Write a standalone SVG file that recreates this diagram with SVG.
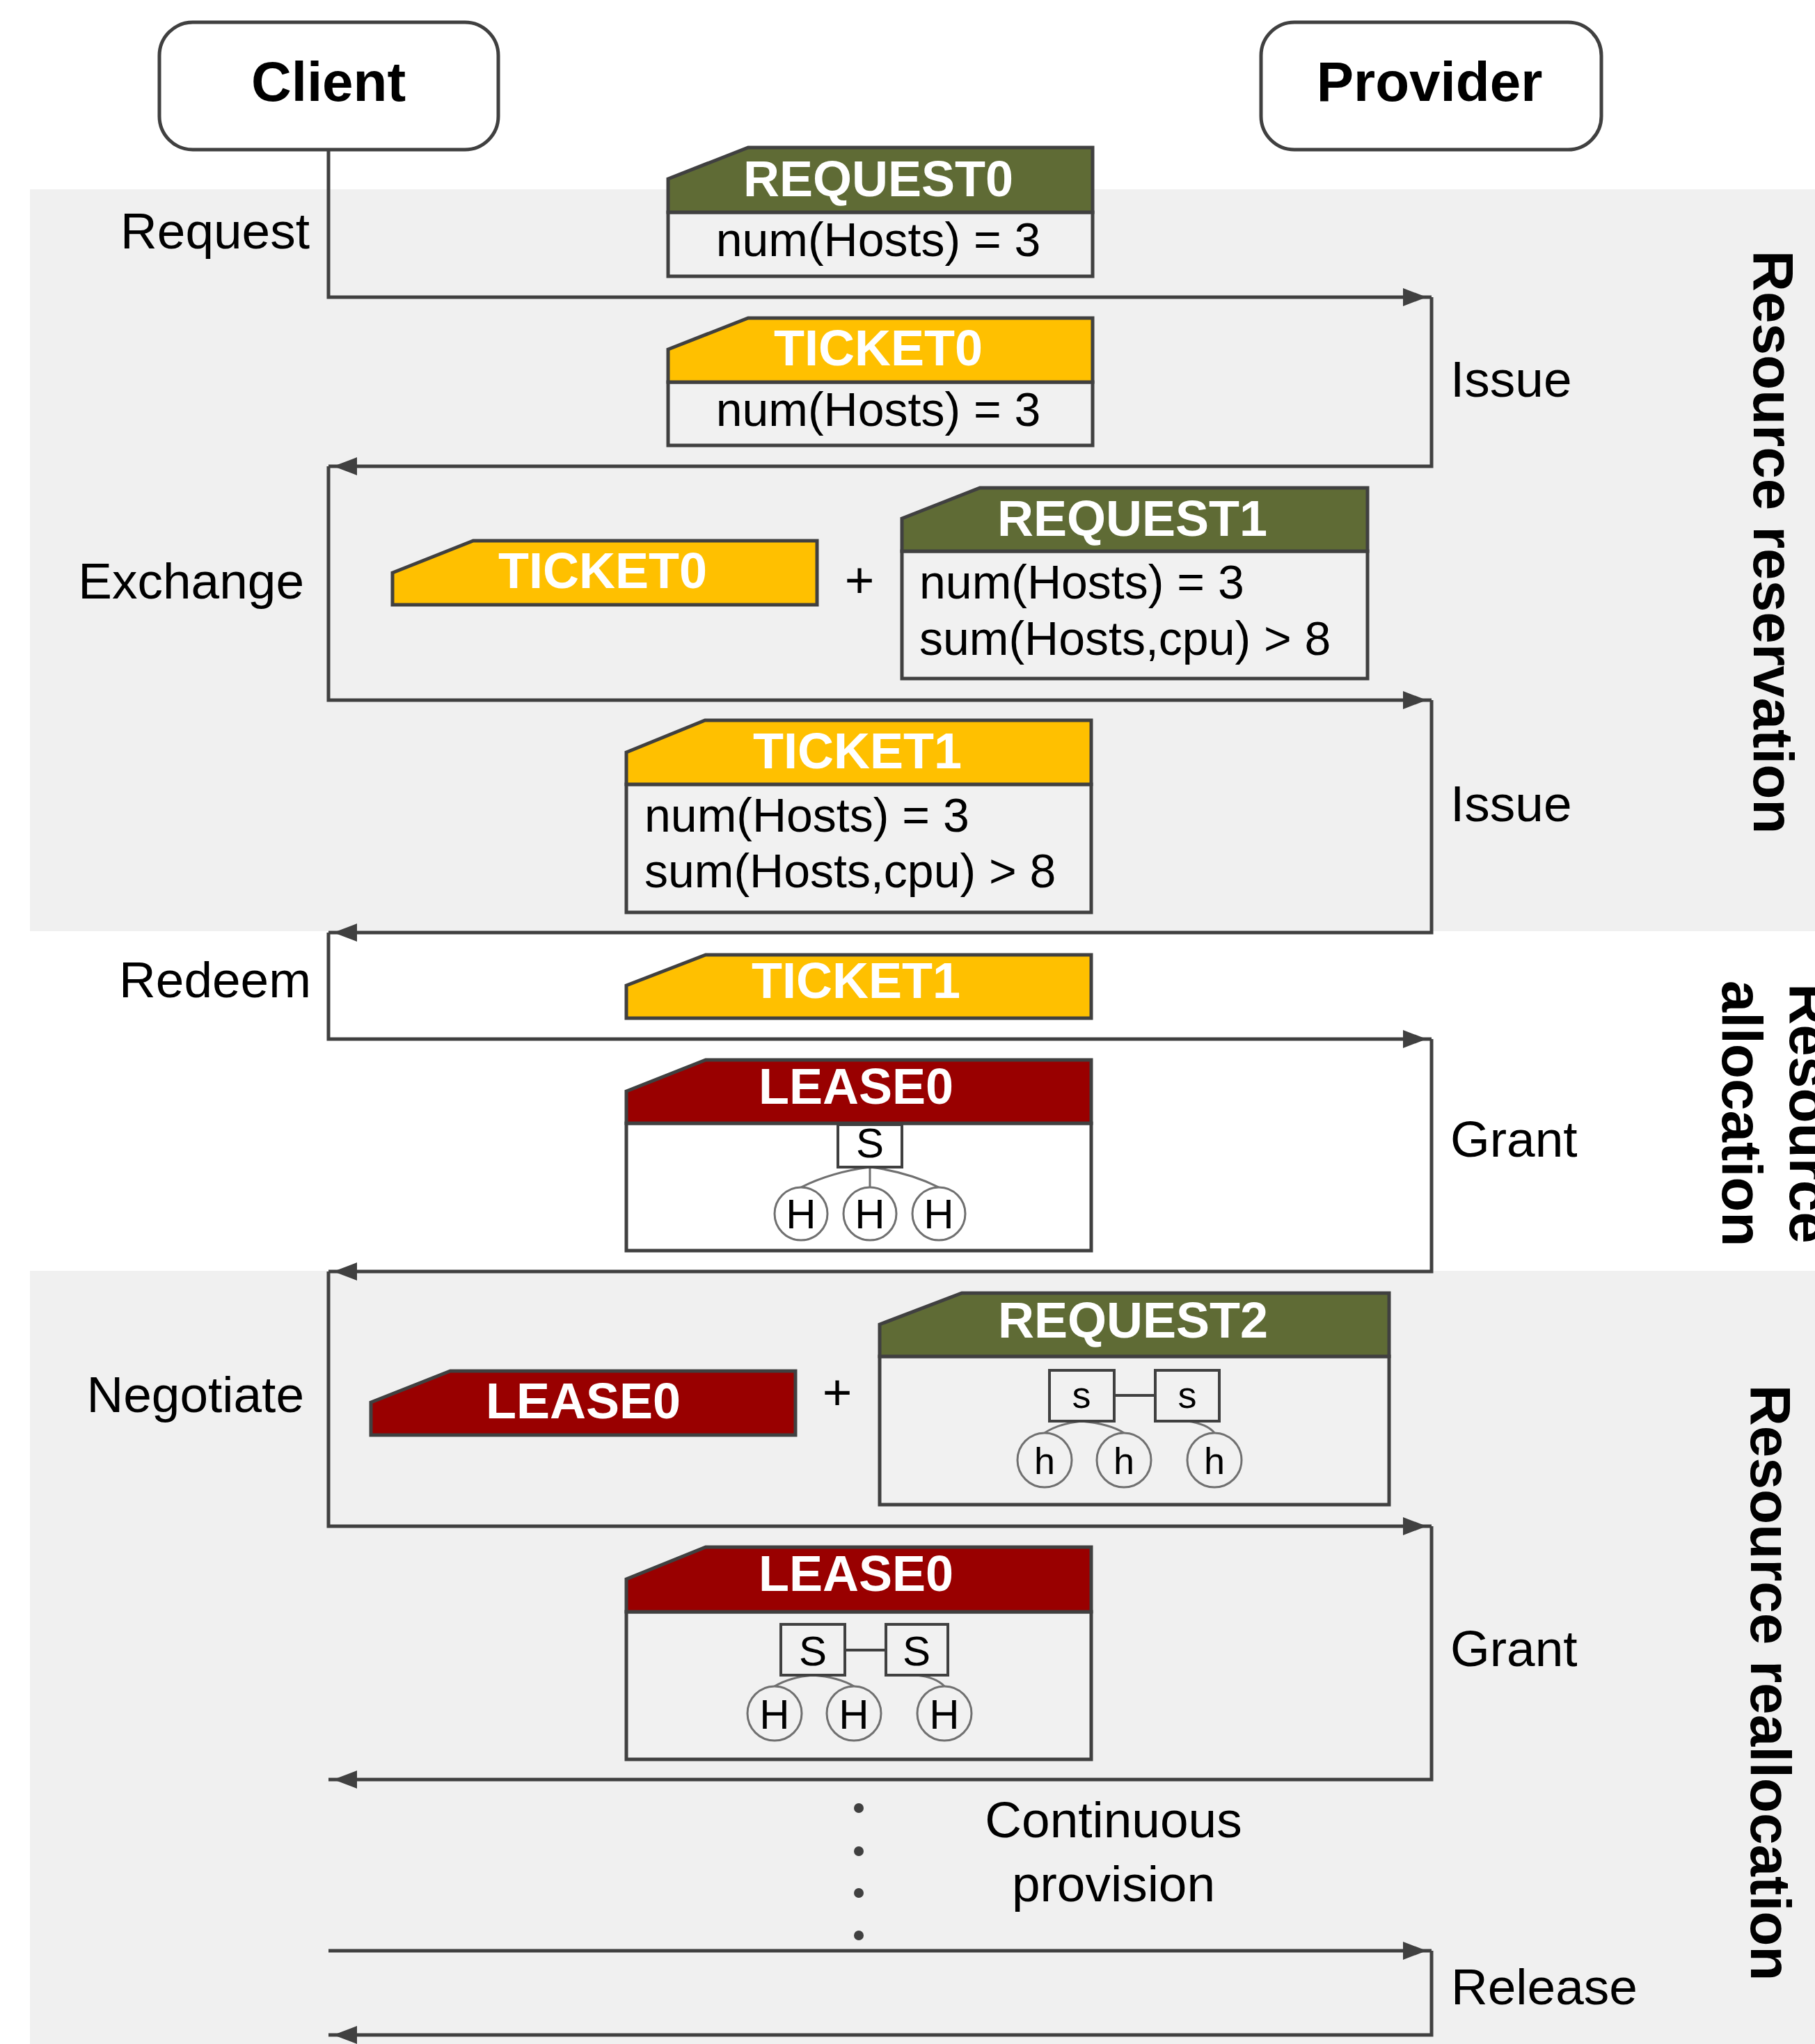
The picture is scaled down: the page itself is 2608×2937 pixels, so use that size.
<svg xmlns="http://www.w3.org/2000/svg" width="2608" height="2937" viewBox="0 0 2608 2937">
<defs>
<style>
.band{fill:#f0f0f0}
.ln{fill:none;stroke:#404040;stroke-width:5}
.bx{stroke:#404040;stroke-width:5;stroke-linejoin:miter}
.g{fill:#5f6b35}
.y{fill:#ffc000}
.r{fill:#990000}
.bg{fill:#f1f1f1}
.bw{fill:#ffffff}
.sb{stroke:#404040;stroke-width:4}
.tl{fill:none;stroke:#707070;stroke-width:3}
.hc{stroke:#707070;stroke-width:3}
text{font-family:"Liberation Sans",Arial,sans-serif;fill:#000}
.ttl{font-size:80px;font-weight:bold;text-anchor:middle}
.lbl{font-size:73px}
.end{text-anchor:end}
.hd{font-size:72px;font-weight:bold;fill:#fff;text-anchor:middle}
.bd{font-size:68px}
.mid{text-anchor:middle}
.vt{font-size:82px;font-weight:bold;text-anchor:middle}
.nd{font-size:60px;text-anchor:middle}
.ns{font-size:54px;text-anchor:middle}
</style>
<marker id="arr" viewBox="0 0 41 26" markerWidth="41" markerHeight="26" refX="41" refY="13" orient="auto" markerUnits="userSpaceOnUse">
<path d="M0,0 L34,13 L0,26 Z" fill="#404040"/>
</marker>
</defs>

<rect width="2608" height="2937" fill="#ffffff"/>
<rect class="band" x="43" y="272" width="2565" height="1066"/>
<rect class="band" x="43" y="1826" width="2565" height="1111"/>

<g id="client">
<rect x="229" y="32" width="487" height="183" rx="48" fill="#fff" stroke="#404040" stroke-width="5"/>
<text class="ttl" x="472" y="145">Client</text>
</g>
<g id="provider">
<rect x="1812" y="32" width="489" height="183" rx="48" fill="#fff" stroke="#404040" stroke-width="5"/>
<text class="ttl" x="2054" y="145">Provider</text>
</g>

<g id="connectors">
<path class="ln" d="M472,215 V427 H2057" marker-end="url(#arr)"/>
<path class="ln" d="M2057,427 V670 H472" marker-end="url(#arr)"/>
<path class="ln" d="M472,670 V1006 H2057" marker-end="url(#arr)"/>
<path class="ln" d="M2057,1006 V1340 H472" marker-end="url(#arr)"/>
<path class="ln" d="M472,1340 V1493 H2057" marker-end="url(#arr)"/>
<path class="ln" d="M2057,1493 V1827 H472" marker-end="url(#arr)"/>
<path class="ln" d="M472,1827 V2193 H2057" marker-end="url(#arr)"/>
<path class="ln" d="M2057,2193 V2557 H472" marker-end="url(#arr)"/>
<path class="ln" d="M472,2803 H2057" marker-end="url(#arr)"/>
<path class="ln" d="M2057,2803 V2924 H472" marker-end="url(#arr)"/>
<g id="dots" fill="#404040">
<circle cx="1234" cy="2598" r="7"/>
<circle cx="1234" cy="2660" r="7"/>
<circle cx="1234" cy="2720" r="7"/>
<circle cx="1234" cy="2781" r="7"/>
</g>
</g>

<g id="labels">
<text class="lbl end" x="445" y="357">Request</text>
<text class="lbl" x="2084" y="570">Issue</text>
<text class="lbl end" x="437" y="860">Exchange</text>
<text class="lbl" x="2084" y="1180">Issue</text>
<text class="lbl end" x="447" y="1433">Redeem</text>
<text class="lbl" x="2084" y="1662">Grant</text>
<text class="lbl end" x="437" y="2029">Negotiate</text>
<text class="lbl" x="2084" y="2394">Grant</text>
<text class="lbl mid" x="1600" y="2640">Continuous</text>
<text class="lbl mid" x="1600" y="2732">provision</text>
<text class="lbl" x="2085" y="2880">Release</text>
<text class="lbl mid" x="1235" y="858">+</text>
<text class="lbl mid" x="1203" y="2025">+</text>
</g>

<g id="phases">
<text class="vt" transform="translate(2520,779) rotate(90)">Resource reservation</text>
<text class="vt" transform="translate(2572,1600) rotate(90)">Resource</text>
<text class="vt" transform="translate(2475,1600) rotate(90)">allocation</text>
<text class="vt" transform="translate(2516,2418) rotate(90)">Resource reallocation</text>
</g>

<g id="request0">
<rect class="bx bg" x="960" y="305" width="610" height="92"/>
<path class="bx g" d="M960,257 L1075,212 H1570 V305 H960 Z"/>
<text class="hd" x="1262" y="282">REQUEST0</text>
<text class="bd mid" x="1262" y="368">num(Hosts) = 3</text>
</g>

<g id="ticket0-issue">
<rect class="bx bg" x="960" y="549" width="610" height="91"/>
<path class="bx y" d="M960,502 L1075,457 H1570 V549 H960 Z"/>
<text class="hd" x="1262" y="525">TICKET0</text>
<text class="bd mid" x="1262" y="612">num(Hosts) = 3</text>
</g>

<g id="ticket0-exchange">
<path class="bx y" d="M564,823 L680,777 H1174 V869 H564 Z"/>
<text class="hd" x="866" y="845">TICKET0</text>
</g>

<g id="request1">
<rect class="bx bg" x="1296" y="792" width="669" height="183"/>
<path class="bx g" d="M1296,745 L1408,701 H1965 V792 H1296 Z"/>
<text class="hd" x="1627" y="770">REQUEST1</text>
<text class="bd" x="1321" y="860">num(Hosts) = 3</text>
<text class="bd" x="1321" y="941">sum(Hosts,cpu) &gt; 8</text>
</g>

<g id="ticket1-issue">
<rect class="bx bg" x="900" y="1127" width="668" height="184"/>
<path class="bx y" d="M900,1081 L1013,1035 H1568 V1127 H900 Z"/>
<text class="hd" x="1232" y="1104">TICKET1</text>
<text class="bd" x="926" y="1195">num(Hosts) = 3</text>
<text class="bd" x="926" y="1275">sum(Hosts,cpu) &gt; 8</text>
</g>

<g id="ticket1-redeem">
<path class="bx y" d="M900,1416 L1014,1372 H1568 V1463 H900 Z"/>
<text class="hd" x="1230" y="1434">TICKET1</text>
</g>

<g id="lease0-grant">
<rect class="bx bw" x="900" y="1614" width="668" height="183"/>
<path class="bx r" d="M900,1568 L1014,1523 H1568 V1614 H900 Z"/>
<text class="hd" x="1230" y="1586">LEASE0</text>
<path class="tl" d="M1250,1677 Q1195,1684 1151,1706 M1250,1677 V1706 M1250,1677 Q1305,1684 1349,1706"/>
<rect class="sb" x="1204" y="1616" width="92" height="61" fill="#fff"/>
<text class="nd" x="1250" y="1663">S</text>
<circle class="hc" cx="1151" cy="1744" r="38" fill="#fff"/>
<circle class="hc" cx="1250" cy="1744" r="38" fill="#fff"/>
<circle class="hc" cx="1349" cy="1744" r="38" fill="#fff"/>
<text class="nd" x="1151" y="1765">H</text>
<text class="nd" x="1250" y="1765">H</text>
<text class="nd" x="1349" y="1765">H</text>
</g>

<g id="lease0-negotiate">
<path class="bx r" d="M533,2015 L647,1970 H1143 V2062 H533 Z"/>
<text class="hd" x="838" y="2038">LEASE0</text>
</g>

<g id="request2">
<rect class="bx bg" x="1264" y="1949" width="732" height="213"/>
<path class="bx g" d="M1264,1903 L1382,1858 H1996 V1949 H1264 Z"/>
<text class="hd" x="1628" y="1922">REQUEST2</text>
<path class="sb" d="M1601,2005 H1660" fill="none"/>
<path class="tl" d="M1554,2042 Q1520,2046 1501,2059 M1554,2042 Q1595,2046 1615,2059 M1706,2042 Q1735,2046 1745,2059"/>
<rect class="sb" x="1508" y="1969" width="93" height="73" fill="#f1f1f1"/>
<rect class="sb" x="1660" y="1969" width="92" height="73" fill="#f1f1f1"/>
<text class="ns" x="1554" y="2023">s</text>
<text class="ns" x="1706" y="2023">s</text>
<circle class="hc" cx="1501" cy="2098" r="39" fill="#f1f1f1"/>
<circle class="hc" cx="1615" cy="2098" r="39" fill="#f1f1f1"/>
<circle class="hc" cx="1745" cy="2098" r="39" fill="#f1f1f1"/>
<text class="ns" x="1501" y="2118">h</text>
<text class="ns" x="1615" y="2118">h</text>
<text class="ns" x="1745" y="2118">h</text>
</g>

<g id="lease0-grant2">
<rect class="bx bg" x="900" y="2316" width="668" height="212"/>
<path class="bx r" d="M900,2269 L1014,2223 H1568 V2316 H900 Z"/>
<text class="hd" x="1230" y="2286">LEASE0</text>
<path class="sb" d="M1214,2371 H1273" fill="none"/>
<path class="tl" d="M1168,2407 Q1135,2410 1113,2423 M1168,2407 Q1205,2410 1227,2423 M1317,2407 Q1345,2410 1357,2423"/>
<rect class="sb" x="1122" y="2334" width="92" height="73" fill="#f1f1f1"/>
<rect class="sb" x="1273" y="2334" width="89" height="73" fill="#f1f1f1"/>
<text class="nd" x="1168" y="2393">S</text>
<text class="nd" x="1317" y="2393">S</text>
<circle class="hc" cx="1113" cy="2462" r="39" fill="#f1f1f1"/>
<circle class="hc" cx="1227" cy="2462" r="39" fill="#f1f1f1"/>
<circle class="hc" cx="1357" cy="2462" r="39" fill="#f1f1f1"/>
<text class="nd" x="1113" y="2484">H</text>
<text class="nd" x="1227" y="2484">H</text>
<text class="nd" x="1357" y="2484">H</text>
</g>
</svg>
